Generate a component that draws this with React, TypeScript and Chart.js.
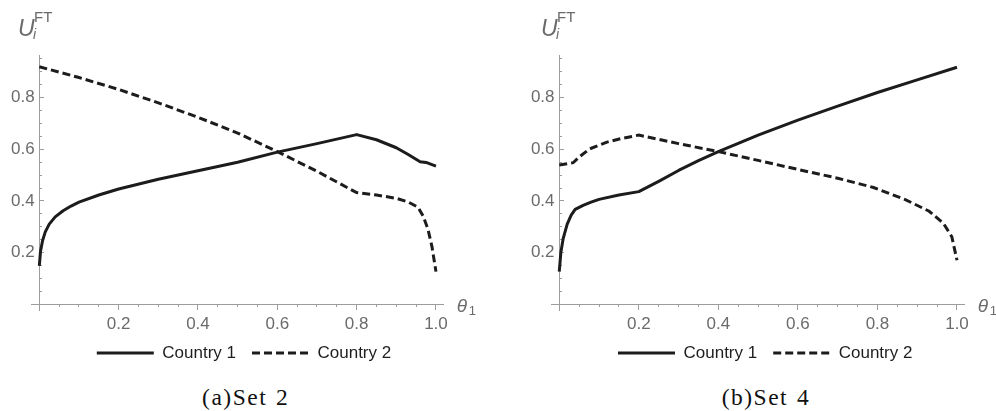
import React, { useEffect, useRef } from 'react';
import { Chart, registerables } from 'chart.js';

Chart.register(...registerables);

// ---------- data ----------
const seriesLabels = ['Country 1', 'Country 2'];
const panelCaptions = ['(a)Set 2', '(b)Set 4'];
const xMajorTicks = [0.2, 0.4, 0.6, 0.8, 1.0];
const yMajorTicks = [0.2, 0.4, 0.6, 0.8];

// Set 2
const set2Country1X = [0, 0.003, 0.008, 0.015, 0.025, 0.04, 0.06, 0.08, 0.1, 0.15, 0.2, 0.3, 0.4, 0.5, 0.6, 0.7, 0.8, 0.85, 0.9, 0.93, 0.96, 0.975, 1.0];
const set2Country1Y = [0.148, 0.205, 0.245, 0.28, 0.31, 0.338, 0.362, 0.38, 0.395, 0.423, 0.446, 0.484, 0.517, 0.55, 0.589, 0.622, 0.657, 0.637, 0.606, 0.58, 0.552, 0.549, 0.535];
const set2Country2X = [0, 0.1, 0.2, 0.3, 0.4, 0.5, 0.6, 0.7, 0.8, 0.85, 0.9, 0.93, 0.955, 0.968, 0.98, 0.99, 1.0];
const set2Country2Y = [0.92, 0.878, 0.832, 0.78, 0.724, 0.663, 0.591, 0.515, 0.432, 0.423, 0.41, 0.396, 0.375, 0.34, 0.289, 0.222, 0.126];

// Set 4
const set4Country1X = [0, 0.004, 0.01, 0.02, 0.03, 0.04, 0.06, 0.08, 0.1, 0.15, 0.2, 0.25, 0.3, 0.35, 0.4, 0.5, 0.6, 0.7, 0.8, 0.9, 1.0];
const set4Country1Y = [0.126, 0.2, 0.255, 0.31, 0.345, 0.367, 0.383, 0.395, 0.406, 0.423, 0.436, 0.476, 0.518, 0.556, 0.591, 0.655, 0.713, 0.767, 0.82, 0.869, 0.918];
const set4Country2X = [0, 0.035, 0.05, 0.077, 0.12, 0.16, 0.2, 0.3, 0.4, 0.5, 0.6, 0.7, 0.79, 0.87, 0.93, 0.966, 0.987, 1.0];
const set4Country2Y = [0.539, 0.548, 0.57, 0.602, 0.628, 0.643, 0.655, 0.622, 0.591, 0.557, 0.522, 0.488, 0.452, 0.405, 0.36, 0.313, 0.261, 0.17];

// ---------- styles ----------
const SANS = '"Liberation Sans", Arial, sans-serif';
const SERIF = '"Liberation Serif", "Times New Roman", serif';
const AXIS_COLOR = '#9c9c9c';
const LABEL_COLOR = '#6b6b6b';
const LINE_COLOR = '#1c1c1c';
const DASH = [8, 4];
const X_MIN = -0.02;
const X_MAX = 1.02;
const Y_MIN = -0.025;
const Y_MAX = 0.965;

type PanelLayout = { left: number; padLeft: number; padRight: number; shift: number };

const CANVAS_W = 496;
const CANVAS_H = 372;

function pts(xs: number[], ys: number[]) {
  return xs.map((x, i) => ({ x, y: ys[i] }));
}

function fmt(v: number, list: number[]) {
  return list.some((t) => Math.abs(t - v) < 1e-6) ? Number(v).toFixed(1) : '';
}

function makeConfig(c1x: number[], c1y: number[], c2x: number[], c2y: number[], lay: PanelLayout): any {
  const tickFont = { family: SANS, size: 17 };
  return {
    type: 'line',
    data: {
      datasets: [
        {
          label: seriesLabels[0],
          data: pts(c1x, c1y),
          borderColor: LINE_COLOR,
          backgroundColor: LINE_COLOR,
          borderWidth: 3,
          pointRadius: 0,
          tension: 0,
          fill: false,
          borderJoinStyle: 'round',
          xAxisID: 'x',
          yAxisID: 'y',
        },
        {
          label: seriesLabels[1],
          data: pts(c2x, c2y),
          borderColor: LINE_COLOR,
          backgroundColor: LINE_COLOR,
          borderWidth: 3,
          borderDash: DASH,
          pointRadius: 0,
          tension: 0,
          fill: false,
          xAxisID: 'x',
          yAxisID: 'y',
        },
      ],
    },
    options: {
      responsive: false,
      animation: false,
      events: [],
      layout: { padding: { left: lay.padLeft, right: lay.padRight, top: 55.1, bottom: 0.5 } },
      plugins: {
        tooltip: { enabled: false },
        legend: {
          position: 'bottom',
          title: { display: true, text: '', font: { size: 10, lineHeight: 1.79 }, padding: 0 },
          labels: {
            usePointStyle: true,
            pointStyle: 'line',
            pointStyleWidth: 57,
            padding: 16,
            color: '#1e1e1e',
            font: { family: SANS, size: 17 },
            generateLabels: (chart: any) => {
              const items = (Chart.defaults as any).plugins.legend.labels.generateLabels(chart);
              items.forEach((it: any) => {
                const ds = chart.data.datasets[it.datasetIndex];
                it.lineDash = ds.borderDash || [];
                it.lineWidth = 3;
                it.strokeStyle = LINE_COLOR;
                it.fillStyle = LINE_COLOR;
                it.pointStyle = 'line';
              });
              return items;
            },
          },
        },
      },
      scales: {
        x: {
          type: 'linear',
          axis: 'x',
          position: { y: 0 },
          min: X_MIN,
          max: X_MAX,
          grid: { drawOnChartArea: false, drawTicks: true, tickLength: 5, tickColor: AXIS_COLOR, tickWidth: 1 },
          border: { display: true, color: AXIS_COLOR, width: 1 },
          ticks: {
            stepSize: 0.2,
            includeBounds: false,
            autoSkip: false,
            maxRotation: 0,
            padding: 5,
            color: LABEL_COLOR,
            font: tickFont,
            callback: (v: number) => fmt(v, xMajorTicks),
          },
        },
        xMinor: {
          type: 'linear',
          axis: 'x',
          position: { y: 0 },
          min: X_MIN,
          max: X_MAX,
          grid: { drawOnChartArea: false, drawTicks: true, tickLength: 3, tickColor: AXIS_COLOR, tickWidth: 1 },
          border: { display: false },
          ticks: { stepSize: 0.05, includeBounds: false, autoSkip: false, display: false },
        },
        y: {
          type: 'linear',
          axis: 'y',
          position: { x: 0 },
          min: Y_MIN,
          max: Y_MAX,
          grid: { drawOnChartArea: false, drawTicks: true, tickLength: -5, tickColor: AXIS_COLOR, tickWidth: 1 },
          border: { display: true, color: AXIS_COLOR, width: 1 },
          ticks: {
            stepSize: 0.2,
            includeBounds: false,
            autoSkip: false,
            color: LABEL_COLOR,
            font: tickFont,
            callback: (v: number) => {
              const s = fmt(v, yMajorTicks);
              return s ? s + ' ' : '';
            },
          },
        },
        yMinor: {
          type: 'linear',
          axis: 'y',
          position: { x: 0 },
          min: Y_MIN,
          max: Y_MAX,
          grid: { drawOnChartArea: false, drawTicks: true, tickLength: -3, tickColor: AXIS_COLOR, tickWidth: 1 },
          border: { display: false },
          ticks: { stepSize: 0.05, includeBounds: false, autoSkip: false, display: false },
        },
        legendShift: {
          type: 'linear',
          axis: 'y',
          position: 'right',
          display: true,
          min: 0,
          max: 1,
          grid: { display: false, drawTicks: true, tickLength: lay.shift },
          border: { display: false },
          ticks: { display: false },
        },
      },
    },
  };
}

function Panel(props: { c1x: number[]; c1y: number[]; c2x: number[]; c2y: number[]; lay: PanelLayout }) {
  const ref = useRef<HTMLCanvasElement | null>(null);
  useEffect(() => {
    if (!ref.current) return;
    const chart = new Chart(ref.current, makeConfig(props.c1x, props.c1y, props.c2x, props.c2y, props.lay));
    return () => chart.destroy();
  }, []);
  return (
    <canvas
      ref={ref}
      width={CANVAS_W}
      height={CANVAS_H}
      style={{ position: 'absolute', left: props.lay.left, top: 0, width: CANVAS_W, height: CANVAS_H }}
    />
  );
}

function AxisText(props: { uLeft: number; thetaLeft: number }) {
  const base: React.CSSProperties = { position: 'absolute', fontFamily: SANS, color: LABEL_COLOR, lineHeight: 1, whiteSpace: 'nowrap' };
  return (
    <>
      <span style={{ ...base, left: props.uLeft, top: 17, fontSize: 23, fontStyle: 'italic' }}>U</span>
      <span style={{ ...base, left: props.uLeft + 15, top: 26.5, fontSize: 14, fontStyle: 'italic' }}>i</span>
      <span style={{ ...base, left: props.uLeft + 16, top: 8.5, fontSize: 15 }}>FT</span>
      <span style={{ ...base, left: props.thetaLeft, top: 295.5, fontSize: 19, fontStyle: 'italic' }}>θ</span>
      <span style={{ ...base, left: props.thetaLeft + 12, top: 304, fontSize: 13 }}>1</span>
    </>
  );
}

function Caption(props: { center: number; text: string }) {
  return (
    <div
      style={{
        position: 'absolute',
        left: props.center - 150,
        width: 300,
        top: 386.4,
        textAlign: 'center',
        fontFamily: SERIF,
        fontSize: 23.5,
        lineHeight: 1,
        letterSpacing: 1.5,
        wordSpacing: 1.5,
        color: '#111',
        whiteSpace: 'nowrap',
      }}
    >
      {props.text}
    </div>
  );
}

const layoutA: PanelLayout = { left: 0, padLeft: 31.4, padRight: 39.4, shift: 12.7 };
const layoutB: PanelLayout = { left: 500, padLeft: 51.3, padRight: 16.9, shift: 14.15 };

export default function App() {
  return (
    <div style={{ position: 'absolute', left: 0, top: 0, width: 996, height: 411, overflow: 'hidden', background: '#fff' }}>
      <Panel c1x={set2Country1X} c1y={set2Country1Y} c2x={set2Country2X} c2y={set2Country2Y} lay={layoutA} />
      <Panel c1x={set4Country1X} c1y={set4Country1Y} c2x={set4Country2X} c2y={set4Country2Y} lay={layoutB} />
      <AxisText uLeft={18} thetaLeft={456.7} />
      <AxisText uLeft={541} thetaLeft={977.7} />
      <Caption center={245.7} text={panelCaptions[0]} />
      <Caption center={766} text={panelCaptions[1]} />
    </div>
  );
}
